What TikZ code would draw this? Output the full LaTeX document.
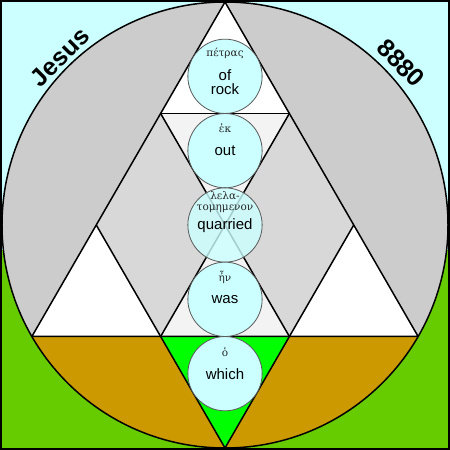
\documentclass[tikz,border=0pt]{standalone}
\usepackage{fontspec}
\setmainfont{Liberation Sans}
\newfontfamily\greekfont{DejaVu Serif}
\usepackage{xcolor}
\usetikzlibrary{positioning}
\definecolor{skycyan}{HTML}{CCFFFF}
\definecolor{stonegray}{HTML}{CCCCCC}
\definecolor{ochre}{HTML}{CC9900}
\definecolor{grass}{HTML}{66CC00}
\definecolor{brightgreen}{HTML}{00FF00}
\definecolor{dotdense}{HTML}{D8D8D8}
\definecolor{dotlight}{HTML}{F3F3F3}
\tikzset{
  edge/.style={line width=1.5bp, line join=round},
  disc/.style={circle, draw=black!65, line width=0.8bp, fill=skycyan, minimum size=74.3bp, inner sep=0pt},
  word/.style={font=\fontsize{15bp}{13.5bp}\selectfont, align=center},
  greek/.style={font=\greekfont\fontsize{10.5bp}{10.5bp}\selectfont, text=black!85, align=center},
  tag/.style={font=\bfseries\fontsize{25bp}{25bp}\selectfont}
}

\begin{document}
\begin{tikzpicture}[x=1bp,y=1bp]
\useasboundingbox (-225,-225) rectangle (225,225);

% Background
\fill[skycyan] (-225,-25) rectangle (225,225);
\fill[grass] (-225,-225) rectangle (225,-25);
\draw[line width=2bp] (-224,-224) rectangle (224,224);

% Circle
\coordinate (O) at (0,0);
\fill[stonegray] (O) circle (223);
\begin{scope}
  \clip (O) circle (223);
  \fill[ochre] (-225,-225) rectangle (225,-111.5);
\end{scope}

% Hexagram points
\coordinate (A) at (90:223);
\coordinate (BL) at (210:223);
\coordinate (BR) at (330:223);
\coordinate (D) at (270:223);
\foreach \a in {0,60,...,300} \coordinate (h\a) at (\a:128.75);

\fill[white] (A) -- (h60) -- (h120) -- cycle;
\fill[dotdense] (h0) -- (h60) -- (h120) -- (h180) -- (h240) -- (h300) -- cycle;
\fill[dotlight] (h60) -- (h120) -- (O) -- cycle (h240) -- (h300) -- (O) -- cycle;
\fill[white] (h180) -- (BL) -- (h240) -- cycle (h0) -- (BR) -- (h300) -- cycle;
\fill[brightgreen] (h240) -- (h300) -- (D) -- cycle;

% Lines
\draw[edge] (A) -- (BL) -- (BR) -- cycle;
\draw[edge] (h120) -- (h60);
\draw[edge] (h180) -- (D) -- (h0);
\draw[edge] (h120) -- (h300) (h60) -- (h240);
\draw[line width=1.5bp] (O) circle (223);

% Discs
\node[disc] (rock) at (0,148.67) {};
\node[disc] (out) at (0,74.33) {};
\node[disc, fill opacity=0.8] (quarried) at (0,0) {};
\node[disc] (was) at (0,-74.33) {};
\node[disc] (which) at (0,-148.67) {};

\node[greek] (petras) at ([yshift=23bp]rock.center) {πέτρας};
\node[word] (ofrock) at ([yshift=-6bp]rock.center) {of\\rock};
\node[greek] (ek) at ([yshift=22bp]out.center) {ἐκ};
\node[word] (outw) at (out.center) {out};
\node[greek] (lela) at ([yshift=23bp]quarried.center) {λελα-\\τομημενον};
\node[word] (quarw) at ([yshift=-1bp]quarried.center) {quarried};
\node[greek] (en) at ([yshift=22bp]was.center) {ἦν};
\node[word] (wasw) at (was.center) {was};
\node[greek] (ho) at ([yshift=21bp]which.center) {ὁ};
\node[word] (whichw) at (which.center) {which};

% Titles
\node[tag, rotate=45] (jesus) at (-165,168) {Jesus};
\node[tag, rotate=-45] (number) at (176,162) {8880};

\end{tikzpicture}
\end{document}
